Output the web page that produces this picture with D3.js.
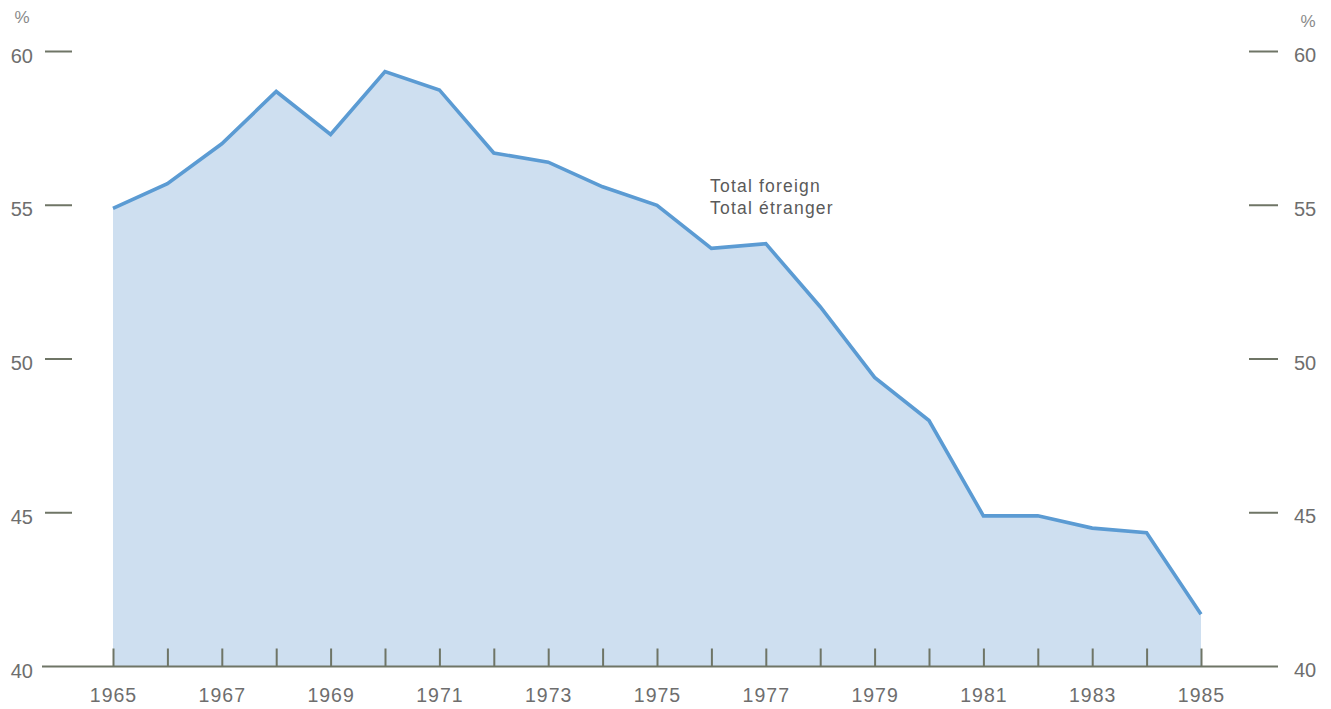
<!DOCTYPE html>
<html>
<head>
<meta charset="utf-8">
<script src="https://cdn.jsdelivr.net/npm/d3@7"></script>
<style>
  html, body { margin: 0; padding: 0; background: #ffffff; }
  svg { display: block; }
  text { font-family: "Liberation Sans", Arial, Helvetica, sans-serif; }
</style>
</head>
<body>
<svg id="chart" width="1331" height="709"></svg>
<script>
// Share of total foreign, by year (%)
const years = [1965, 1966, 1967, 1968, 1969, 1970, 1971, 1972, 1973, 1974, 1975,
               1976, 1977, 1978, 1979, 1980, 1981, 1982, 1983, 1984, 1985];
const totalForeign = [54.9, 55.7, 57.0, 58.7, 57.3, 59.35, 58.75, 56.7, 56.4, 55.6, 55.0,
                      53.6, 53.75, 51.7, 49.4, 48.0, 44.9, 44.9, 44.5, 44.35, 41.7];
const yTicks = [40, 45, 50, 55, 60];
const xLabelYears = [1965, 1967, 1969, 1971, 1973, 1975, 1977, 1979, 1981, 1983, 1985];
const seriesLabel = ["Total foreign", "Total étranger"];

const svg = d3.select("#chart");

const x = d3.scaleLinear().domain([1965, 1985]).range([113, 1201]);
const y = d3.scaleLinear().domain([40, 60]).range([666.5, 51.5]);

const data = years.map((yr, i) => ({ yr, v: totalForeign[i] }));

// Shaded area under the series
svg.append("path")
  .datum(data)
  .attr("fill", "#cedff0")
  .attr("d", d3.area().x(d => x(d.yr)).y0(y(40)).y1(d => y(d.v)));

// Series line
svg.append("path")
  .datum(data)
  .attr("fill", "none")
  .attr("stroke", "#5b9bd3")
  .attr("stroke-width", 3.6)
  .attr("stroke-linejoin", "miter")
  .attr("d", d3.line().x(d => x(d.yr)).y(d => y(d.v)));

const axisColor = "#6f7566";
const textColor = "#6e6e6e";

// Baseline
svg.append("line")
  .attr("x1", 42).attr("x2", 1278)
  .attr("y1", y(40)).attr("y2", y(40))
  .attr("stroke", axisColor).attr("stroke-width", 2);

// Year ticks rising from the baseline
const xAxis = d3.axisBottom(x)
  .tickValues(years)
  .tickSize(-18)
  .tickFormat(d => xLabelYears.includes(d) ? String(d) : "");
const gx = svg.append("g")
  .attr("transform", `translate(0,${y(40)})`)
  .call(xAxis);
gx.select(".domain").remove();
gx.selectAll(".tick line").attr("stroke", axisColor).attr("stroke-width", 2);
gx.selectAll(".tick text")
  .attr("y", 22)
  .attr("dy", "0.71em")
  .attr("fill", textColor)
  .style("font-size", "19.5px")
  .style("letter-spacing", "1px")
  .style("font-family", "'Liberation Sans', Arial, sans-serif");

// Left value axis: short dashes with labels
const yLeft = svg.append("g");
yTicks.forEach(t => {
  if (t !== 40) {
    yLeft.append("line")
      .attr("x1", 45).attr("x2", 72)
      .attr("y1", y(t)).attr("y2", y(t))
      .attr("stroke", axisColor).attr("stroke-width", 2);
  }
  yLeft.append("text")
    .attr("x", 33).attr("y", y(t) + 4)
    .attr("dy", "0.35em")
    .attr("text-anchor", "end")
    .attr("fill", textColor)
    .style("font-size", "20px")
    .text(t);
});

// Right value axis
const yRight = svg.append("g");
yTicks.forEach(t => {
  if (t !== 40) {
    yRight.append("line")
      .attr("x1", 1249).attr("x2", 1278)
      .attr("y1", y(t)).attr("y2", y(t))
      .attr("stroke", axisColor).attr("stroke-width", 2);
  }
  yRight.append("text")
    .attr("x", 1294).attr("y", y(t) + 3.5)
    .attr("dy", "0.35em")
    .attr("text-anchor", "start")
    .attr("fill", textColor)
    .style("font-size", "20px")
    .text(t);
});

// Unit markers
svg.append("text").attr("x", 22).attr("y", 23).attr("text-anchor", "middle")
  .attr("fill", "#8a8a8a").style("font-size", "17px").text("%");
svg.append("text").attr("x", 1308).attr("y", 27).attr("text-anchor", "middle")
  .attr("fill", "#8a8a8a").style("font-size", "17px").text("%");

// Series label
const lbl = svg.append("text")
  .attr("x", 710).attr("y", 192)
  .attr("fill", "#5a5a5a")
  .style("font-size", "17.5px")
  .style("letter-spacing", "1.2px");
seriesLabel.forEach((s, i) => {
  lbl.append("tspan").attr("x", 710).attr("dy", i === 0 ? 0 : 22).text(s);
});
</script>
</body>
</html>
